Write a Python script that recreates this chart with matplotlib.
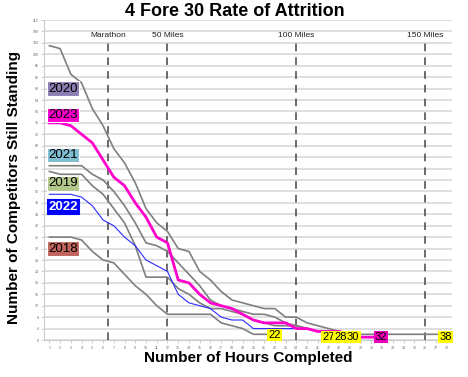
import numpy as np
import matplotlib
matplotlib.use("Agg")
import matplotlib.pyplot as plt

plt.rcParams["font.family"] = ["Liberation Sans", "DejaVu Sans"]

# competitors still standing, one value per hour (hour 1 onward)
y2020 = [103, 102, 93, 90, 81, 75, 67, 62, 55, 46, 41, 38, 32, 31, 24, 21, 17, 14, 13, 12,
         11, 11, 8, 8, 6, 5, 4, 3, 2, 2, 2, 2, 2, 2, 2, 2, 2, 2]
y2023 = [76, 76, 75, 72, 69, 63, 57, 54, 48, 43, 36, 34, 21, 20, 16, 13, 12, 11, 9, 7,
         6, 6, 6, 4, 4, 3, 3, 3, 2, 1, 1, 1]
y2021 = [61, 61, 61, 61, 58, 56, 52, 47, 41, 34, 33, 31, 27, 23, 19, 14, 12, 11, 10, 9,
         9, 8, 6, 5, 4, 3, 3, 2]
y2019 = [59, 58, 58, 58, 54, 51, 46, 41, 33, 22, 22, 22, 18, 16, 13, 11, 11, 10, 9, 7,
         6, 5, 5, 5, 4, 3, 3, 2, 1, 1]
y2022 = [51, 51, 51, 50, 47, 42, 40, 36, 33, 28, 26, 24, 16, 13, 12, 11, 8, 7, 7, 4,
         4, 4, 4, 4, 4, 3, 3]
y2018 = [36, 36, 36, 35, 31, 28, 27, 23, 19, 16, 12, 9, 9, 9, 9, 9, 6, 5, 4, 2, 2, 2]

years = ["2020", "2023", "2021", "2019", "2022", "2018"]
label_y = [88, 78.7, 64.7, 54.8, 46.7, 32]
label_colors = ["#8c7db2", "#ff00cc", "#7fbdd1", "#b3c88b", "#0000ff", "#c0645c"]

milestones = ["Marathon", "50 Miles", "100 Miles", "150 Miles"]
milestone_hours = [6.45, 12, 24, 36]

end_hours = ["22", "27", "28", "30", "32", "38"]
end_x = [22, 27, 28.1, 29.3, 31.9, 37.9]
end_y = [1.7, 1, 1, 1, 1, 1]
end_colors = ["#ffff00", "#ffff00", "#ffff00", "#ffff00", "#ee00bb", "#ffff00"]

fig = plt.figure(figsize=(4.68, 3.77), dpi=100)
ax = fig.add_axes([44 / 468, 37 / 377, 408 / 468, 320 / 377])

for y in np.arange(0, 113, 4):
    ax.axhline(y, color="#dcdcdc", lw=1.3, zorder=0)

def hours(vals):
    return np.arange(1, len(vals) + 1)

ax.plot(hours(y2020), y2020, color="#7f7f7f", lw=1.2, zorder=3)
ax.plot(hours(y2021), y2021, color="#7f7f7f", lw=1.2, zorder=3)
ax.plot(hours(y2019), y2019, color="#7f7f7f", lw=1.2, zorder=3)
ax.plot(hours(y2018), y2018, color="#7f7f7f", lw=1.2, zorder=3)
ax.plot(hours(y2022), y2022, color="#2b2bff", lw=0.8, zorder=4)
ax.plot(hours(y2023), y2023, color="#ff00cc", lw=2.0, zorder=5)

for name, h in zip(milestones, milestone_hours):
    ax.plot([h, h], [0, 104.5], color="#444444", lw=1.1, ls=(0, (5, 4)), zorder=2)
    ax.text(h, 106.5, name, ha="center", va="center", fontsize=6, color="#222222", zorder=6)

for yr, yy, c in zip(years, label_y, label_colors):
    tc = "white" if yr == "2022" else "black"
    ax.text(2.3, yy, yr, ha="center", va="center", fontsize=9.5, color=tc, zorder=6,
            fontweight="bold" if yr == "2022" else "normal",
            bbox=dict(boxstyle="square,pad=0.1", fc=c, ec="white" if yr != "2022" else "#0000ff", lw=0.8))

for t, xx, yy, c in zip(end_hours, end_x, end_y, end_colors):
    ax.text(xx, yy, t, ha="center", va="center", fontsize=8, color="black", zorder=7,
            bbox=dict(boxstyle="square,pad=0.1", fc=c, ec="none"))

ax.set_xlim(0.5, 38.5)
ax.set_ylim(0, 112)
ax.set_xticks(range(1, 39))
ax.set_xticklabels([str(i) for i in range(1, 39)], fontsize=2.5, color="#666666")
ax.set_yticks(range(0, 113, 4))
ax.set_yticklabels([str(i) for i in range(0, 113, 4)], fontsize=2.5, color="#666666")
ax.tick_params(axis="both", length=2, width=0.5, color="#bbbbbb", pad=2)
for s in ["top", "right"]:
    ax.spines[s].set_visible(False)
for s in ["left", "bottom"]:
    ax.spines[s].set_color("#cccccc")
    ax.spines[s].set_linewidth(0.8)

fig.text(235 / 468, 1 - 12 / 377, "4 Fore 30 Rate of Attrition", ha="center", va="center",
         fontsize=13, fontweight="bold")
fig.text(248 / 468, 1 - 358 / 377, "Number of Hours Completed", ha="center", va="center",
         fontsize=11, fontweight="bold")
fig.text(14 / 468, 1 - 188 / 377, "Number of Competitors Still Standing", ha="center", va="center",
         fontsize=11, fontweight="bold", rotation=90)

fig.savefig("out.png", dpi=100)
